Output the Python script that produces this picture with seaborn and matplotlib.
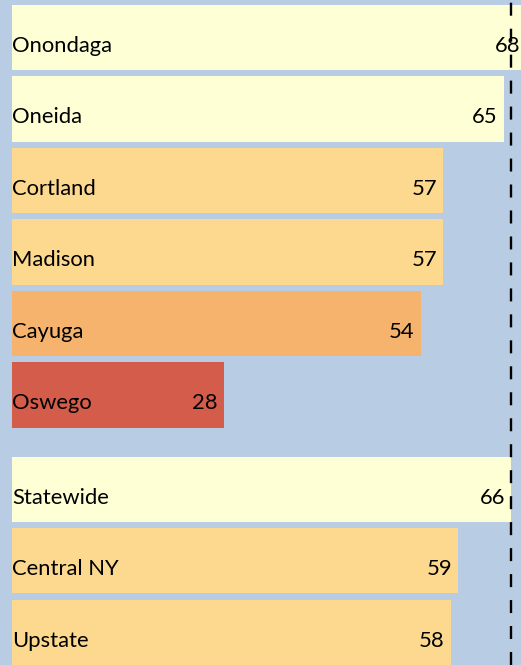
import matplotlib
matplotlib.use("Agg")
import matplotlib.pyplot as plt
import seaborn as sns
import pandas as pd

# Scores by county and reference areas
regions = ["Onondaga", "Oneida", "Cortland", "Madison", "Cayuga", "Oswego",
           "Statewide", "Central NY", "Upstate"]
scores = [68, 65, 57, 57, 54, 28, 66, 59, 58]
# vertical slots: counties, then a gap before the comparison areas
row_pos = [0, 1, 2, 3, 4, 5, 6.32, 7.32, 8.32]
fill_colors = ["#ffffd6", "#ffffd6", "#fcd98f", "#fcd98f", "#f6b36e",
               "#d35c4a", "#ffffd6", "#fcd98f", "#fcd98f"]
benchmark = 66  # statewide reference line

bg = "#b8cce4"
plt.rcParams["font.family"] = ["Lato", "DejaVu Sans"]

df = pd.DataFrame({"region": regions, "score": scores, "pos": row_pos})

fig = plt.figure(figsize=(5.21, 6.65), dpi=100, facecolor=bg)
ax = fig.add_axes([0, 0, 1, 1])
ax.set_facecolor(bg)

sns.barplot(data=df, x="score", y="pos", orient="h", native_scale=True,
            hue="region", palette=dict(zip(regions, fill_colors)),
            legend=False, width=0.91, saturation=1, errorbar=None,
            linewidth=0, ax=ax)

fs = 15.8
for name, val, pos in zip(regions, scores, row_pos):
    ax.annotate(name, xy=(0, pos), xytext=(0, -8.5), textcoords="offset pixels",
                ha="left", va="center", fontsize=fs, color="black",
                annotation_clip=False)
    ax.annotate(str(val), xy=(val, pos), xytext=(-6, -8.5),
                textcoords="offset pixels", ha="right", va="center",
                fontsize=fs, color="black", annotation_clip=False)

ax.axvline(benchmark, color="black", lw=1.7, ls=(0, (5.5, 5.5)), zorder=5)

ax.set_xlim(-1.59, 67.28)
ax.set_ylim(8.776, -0.524)
ax.set_axis_off()

fig.savefig("out.png", dpi=100, facecolor=bg)
